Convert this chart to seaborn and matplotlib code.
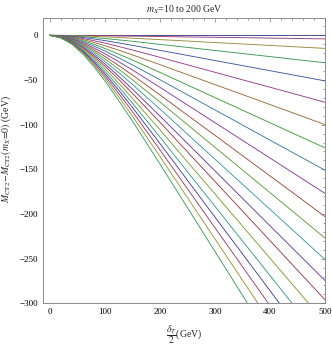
import colorsys
import pandas as pd
import matplotlib
matplotlib.use("Agg")
import matplotlib.pyplot as plt
from matplotlib.ticker import MultipleLocator
import seaborn as sns

# delta_T/2 grid (GeV) and M_CT2 - M_CT2(m_X=0) for m_X = 0 ... 200 GeV
dT = [0, 20, 40, 60, 80, 100, 125, 150, 200, 250, 300, 350, 400, 450, 500]

diff_m0 = [0, 0, 0, 0, 0, 0, 0, 0, 0, 0, 0, 0, 0, 0, 0]
diff_m10 = [0, 0, -0.1, -0.2, -0.3, -0.5, -0.7, -0.9, -1.3, -1.8, -2.2, -2.6, -3.1, -3.5, -4.0]
diff_m20 = [0, -0.1, -0.3, -0.7, -1.2, -1.7, -2.4, -3.2, -4.8, -6.4, -8.1, -9.7, -11.3, -13.0, -14.6]
diff_m30 = [0, -0.2, -0.7, -1.5, -2.5, -3.6, -5.1, -6.7, -10.1, -13.5, -17.0, -20.4, -23.8, -27.3, -30.7]
diff_m40 = [0, -0.3, -1.2, -2.4, -4.1, -5.9, -8.5, -11.2, -16.8, -22.5, -28.2, -33.9, -39.6, -45.3, -51.0]
diff_m50 = [0, -0.5, -1.7, -3.6, -6.0, -8.7, -12.5, -16.4, -24.6, -33.0, -41.4, -49.8, -58.1, -66.5, -75.0]
diff_m60 = [0, -0.7, -2.3, -4.8, -8.0, -11.6, -16.6, -21.9, -32.8, -44.0, -55.2, -66.3, -77.5, -88.7, -100.0]
diff_m70 = [0, -0.9, -2.9, -6.0, -10.1, -14.7, -21.0, -27.6, -41.5, -55.6, -69.7, -83.8, -97.9, -112.0, -126.0]
diff_m80 = [0, -1.0, -3.5, -7.2, -12.1, -17.6, -25.2, -33.1, -49.7, -66.6, -83.5, -100.4, -117.3, -134.2, -151.0]
diff_m90 = [0, -1.2, -4.0, -8.5, -14.1, -20.6, -29.5, -38.8, -58.2, -78.0, -97.8, -117.6, -137.4, -157.2, -177.0]
diff_m100 = [0, -1.4, -4.6, -9.7, -16.2, -23.6, -33.8, -44.4, -66.7, -89.4, -112.0, -134.7, -157.4, -180.1, -203.0]
diff_m110 = [0, -1.6, -5.2, -10.9, -18.1, -26.4, -37.8, -49.7, -74.6, -100.0, -125.4, -150.7, -176.1, -201.5, -227.0]
diff_m120 = [0, -1.7, -5.7, -12.0, -20.1, -29.2, -41.8, -55.0, -82.5, -110.6, -138.7, -166.7, -194.8, -222.9, -251.0]
diff_m130 = [0, -1.9, -6.3, -13.2, -21.9, -32.0, -45.8, -60.2, -90.3, -121.0, -151.7, -182.5, -213.2, -243.9, -274.5]
diff_m140 = [0, -2.0, -6.8, -14.2, -23.7, -34.5, -49.3, -64.9, -97.3, -130.5, -163.6, -196.7, -229.8, -263.0, -296.0]
diff_m150 = [0, -2.2, -7.3, -15.4, -25.7, -37.4, -53.6, -70.5, -105.7, -141.7, -177.6, -213.6, -249.6, -285.5, -321.5]
diff_m160 = [0, -2.4, -7.9, -16.6, -27.7, -40.3, -57.7, -75.9, -113.9, -152.7, -191.4, -230.2, -268.9, -307.7, -346.5]
diff_m170 = [0, -2.5, -8.4, -17.7, -29.4, -42.9, -61.4, -80.7, -121.1, -162.3, -203.5, -244.7, -285.9, -327.1, -368.4]
diff_m180 = [0, -2.7, -8.9, -18.7, -31.2, -45.4, -65.0, -85.4, -128.2, -171.8, -215.4, -259.0, -302.6, -346.2, -389.8]
diff_m190 = [0, -2.8, -9.4, -19.8, -33.0, -48.0, -68.8, -90.4, -135.6, -181.8, -228.0, -274.1, -320.3, -366.4, -412.6]
diff_m200 = [0, -3.0, -10.0, -21.0, -35.0, -51.0, -73.0, -96.0, -144.0, -193.0, -242.0, -291.0, -340.0, -389.0, -438.0]

m_values = list(range(0, 201, 10))
curves = [diff_m0, diff_m10, diff_m20, diff_m30, diff_m40, diff_m50, diff_m60,
          diff_m70, diff_m80, diff_m90, diff_m100, diff_m110, diff_m120,
          diff_m130, diff_m140, diff_m150, diff_m160, diff_m170, diff_m180,
          diff_m190, diff_m200]

rows = []
for m, ys in zip(m_values, curves):
    for x, y in zip(dT, ys):
        rows.append({"dT": x, "diff": y, "mX": m})
df = pd.DataFrame(rows)

# old Mathematica default plot colours (golden-ratio hue steps)
palette = [colorsys.hsv_to_rgb((0.67 + i * 1.2360679775) % 1, 0.6, 0.6)
           for i in range(len(m_values))]

sns.set_style("white")
plt.rcParams["font.family"] = ["Liberation Serif", "DejaVu Serif"]
plt.rcParams["mathtext.fontset"] = "stix"

fig = plt.figure(figsize=(3.32, 3.53), dpi=100)
ax = fig.add_axes([0.1304, 0.1408, 0.8486, 0.8072])

sns.lineplot(data=df, x="dT", y="diff", hue="mX", palette=palette,
             legend=False, linewidth=0.65, ax=ax, sort=False)

ax.set_xlim(-12, 500)
ax.set_ylim(-300, 19)
ax.xaxis.set_major_locator(MultipleLocator(100))
ax.xaxis.set_minor_locator(MultipleLocator(20))
ax.yaxis.set_major_locator(MultipleLocator(50))
ax.yaxis.set_minor_locator(MultipleLocator(10))
ax.tick_params(which="both", direction="in", top=True, right=True,
               color="#7a7a7a", width=0.5, labelsize=6.5, labelcolor="black")
ax.tick_params(which="major", length=3)
ax.tick_params(which="minor", length=1.6)
ax.tick_params(axis="x", pad=3.5)
ax.tick_params(axis="y", pad=4)
for sp in ax.spines.values():
    sp.set_color("#7a7a7a")
    sp.set_linewidth(0.6)

ax.set_title(r"$m_X$=10 to 200 GeV", fontsize=7, pad=4)
ax.set_xlabel(r"$\dfrac{\delta_T}{2}$(GeV)", fontsize=7)
ax.xaxis.set_label_coords(0.5, -0.072)
ax.xaxis.label.set_va("top")
ax.set_ylabel(r"$M_{\mathrm{CT2}}\!-\!M_{\mathrm{CT2}}(m_X\!=\!0)$ (GeV)", fontsize=7)
ax.yaxis.set_label_coords(-0.108, 0.54)

fig.savefig("out.png", dpi=100)
